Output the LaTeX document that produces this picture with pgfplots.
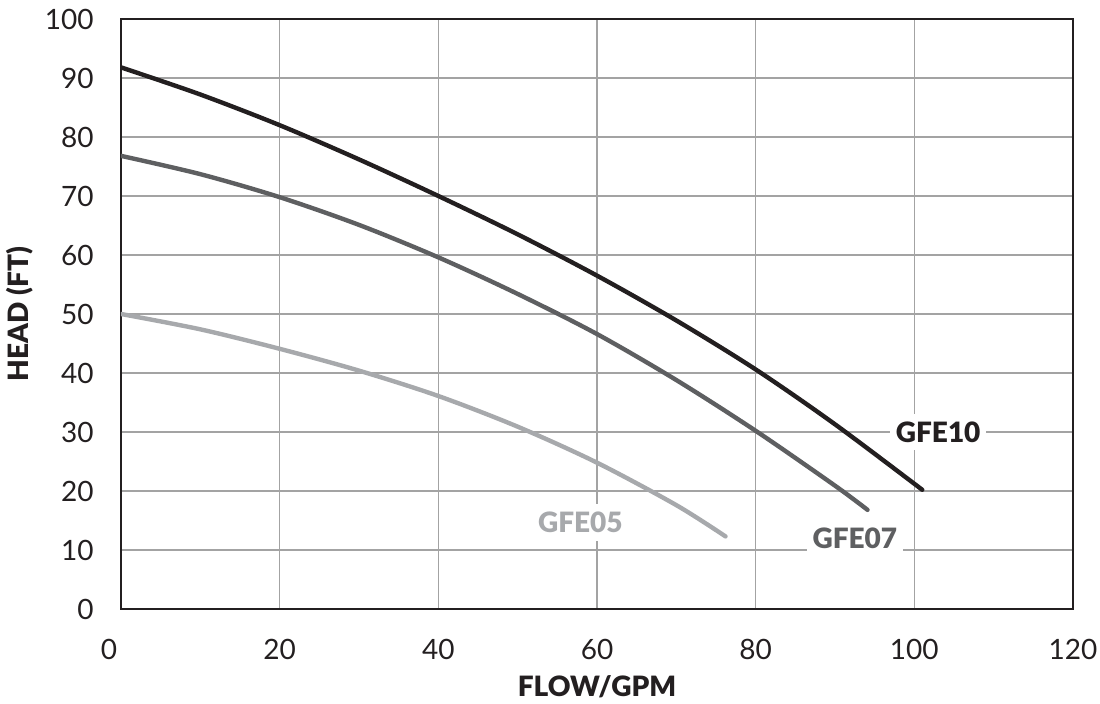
\documentclass[border=0pt]{standalone}
\usepackage{pgfplots}
\pgfplotsset{compat=1.18}
\usepackage{fontspec}
\setmainfont{Lato}
\newfontfamily\heavy{Lato}[UprightFont=* Black]
\definecolor{ink}{HTML}{231F20}
\definecolor{midgray}{HTML}{5E5F61}
\definecolor{lightgray}{HTML}{A7A9AC}
\definecolor{gridgray}{HTML}{A3A3A3}
\begin{document}
\begin{tikzpicture}
\begin{axis}[
  name=ax,
  scale only axis,
  width=476pt, height=295pt,
  xmin=0, xmax=120, ymin=0, ymax=100,
  xtick={0,20,...,120}, ytick={0,10,...,100},
  xticklabels={\kern-12pt 0,20,40,60,80,100,120},
  major tick length=0pt,
  grid=major,
  major grid style={gridgray, line width=0.75pt},
  axis line style={ink, line width=1pt},
  /pgf/number format/assume math mode=true,
  tick label style={font=\fontsize{14}{16}\selectfont, text=ink, inner sep=0pt},
  yticklabel style={anchor=east, xshift=-13.5pt},
  xticklabel style={anchor=north, yshift=-15pt},
  xlabel={FLOW/GPM},
  ylabel={HEAD (FT)},
  xlabel style={font=\heavy\fontsize{14}{16}\selectfont, text=ink,
    at={(axis description cs:0.5,-0.1322)}, anchor=center},
  ylabel style={font=\heavy\fontsize{14}{16}\selectfont, text=ink,
    at={(axis description cs:-0.1061,0.5)}, anchor=center},
  every axis plot/.append style={line width=2.2pt, line cap=round, smooth},
]
% GFE05
\addplot[lightgray] coordinates {
  (0,50.0) (10,47.4) (20,44.1) (30,40.4) (40,36.1) (50,30.9) (60,24.8) (70,17.6) (76.2,12.3)
};
% GFE07
\addplot[midgray] coordinates {
  (0,76.8) (10,73.7) (20,69.8) (30,65.1) (40,59.6) (50,53.4) (60,46.6) (70,38.8) (80,30.2) (90,20.9) (94.1,16.8)
};
% GFE10
\addplot[ink] coordinates {
  (0,91.8) (10,87.2) (20,82.0) (30,76.2) (40,70.0) (50,63.5) (60,56.5) (70,48.9) (80,40.6) (90,31.3) (101,20.2)
};
\node[font=\heavy\fontsize{14}{16}\selectfont, text=ink, fill=white, inner xsep=3pt, inner ysep=4pt] at (axis cs:103,30) {GFE10};
\node[font=\heavy\fontsize{14}{16}\selectfont, text=midgray, fill=white, inner xsep=3pt, inner ysep=4pt] at (axis cs:92.5,12) {GFE07};
\node[font=\heavy\fontsize{14}{16}\selectfont, text=lightgray, fill=white, inner xsep=3pt, inner ysep=4pt] at (axis cs:57.9,14.7) {GFE05};
\end{axis}
\pgfresetboundingbox
\path[use as bounding box] ([xshift=-60.5pt,yshift=-47.5pt]ax.south west) rectangle ([xshift=13.5pt,yshift=9.5pt]ax.north east);
\end{tikzpicture}
\end{document}
